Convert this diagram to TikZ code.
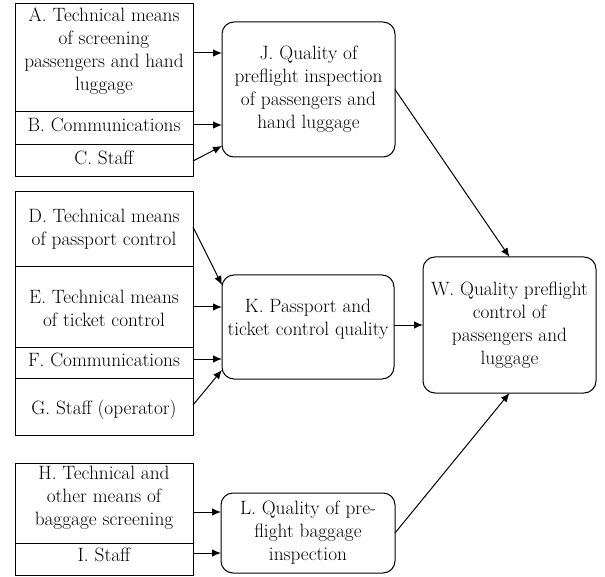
\documentclass[tikz,border=0pt]{standalone}
\usetikzlibrary{arrows.meta}
\begin{document}
\begin{tikzpicture}[x=1pt,y=-1pt,
  every node/.style={font=\fontsize{19.3pt}{23pt}\selectfont, align=center, inner sep=0pt, outer sep=0pt},
  lbox/.style={draw, line width=1pt, minimum width=178pt, text width=176pt},
  rbox/.style={draw, line width=1pt, rounded corners=12pt},
  txt/.style={font=\fontsize{19.3pt}{23pt}\selectfont, align=center},
  arr/.style={line width=1pt, -{Latex[length=9pt,width=7.5pt]}}
]
\useasboundingbox (0,0) rectangle (605,577);
% left boxes, group 1
\node[lbox, minimum height=108pt, label={[txt,yshift=7pt]center:{A. Technical means\\of screening\\passengers and hand\\luggage}}] (A) at (104,58) {};
\node[lbox, minimum height=33pt, label={[txt,yshift=3.5pt]center:{B. Communications}}] (B) at (104,128.5) {};
\node[lbox, minimum height=32pt, label={[txt,yshift=3pt]center:{C. Staff}}] (C) at (104,161) {};
% group 2
\node[lbox, minimum height=75pt, label={[txt,yshift=0pt]center:{D. Technical means\\of passport control}}] (D) at (104,229.5) {};
\node[lbox, minimum height=80pt, label={[txt,yshift=-1.5pt]center:{E. Technical means\\of ticket control}}] (E) at (104,307) {};
\node[lbox, minimum height=31pt, label={[txt,yshift=2.5pt]center:{F. Communications}}] (F) at (104,362.5) {};
\node[lbox, minimum height=57pt, label={[txt,yshift=-3pt]center:{G. Staff (operator)}}] (G) at (104,406.5) {};
% group 3
\node[lbox, minimum height=80pt, label={[txt,yshift=5pt]center:{H. Technical and\\other means of\\baggage screening}}] (H) at (104,503) {};
\node[lbox, minimum height=32pt, label={[txt,yshift=4pt]center:{I. Staff}}] (I) at (104,559) {};
% rounded boxes
\node[rbox, minimum width=173pt, minimum height=135pt] (J) at (308.5,89.5) {J. Quality of\\preflight inspection\\of passengers and\\hand luggage};
\node[rbox, minimum width=172pt, minimum height=104pt, label={[txt,yshift=7.5pt]center:{K. Passport and\\ticket control quality}}] (K) at (308,327) {};
\node[rbox, minimum width=173pt, minimum height=136pt] (W) at (509.5,325) {W. Quality preflight\\control of\\passengers and\\luggage};
\node[rbox, minimum width=174pt, minimum height=80pt] (L) at (308,533) {L. Quality of pre-\\flight baggage\\inspection};
% arrows into J
\draw[arr] ([yshift=5pt]A.east) -- ([yshift=5pt]A.east -| J.west);
\draw[arr] ([yshift=3.5pt]B.east) -- ([yshift=3.5pt]B.east -| J.west);
\draw[arr] (C.east) -- ([yshift=11pt]J.south west);
% arrows into K
\draw[arr] ([yshift=2.5pt]D.east) -- ([yshift=-10pt]K.north west);
\draw[arr] (E.east) -- (E.east -| K.west);
\draw[arr] ([yshift=3.5pt]F.east) -- ([yshift=3.5pt]F.east -| K.west);
\draw[arr] ([yshift=1.5pt]G.east) -- ([yshift=9pt]K.south west);
% arrows into L
\draw[arr] ([yshift=-9pt]H.east) -- ([yshift=-9pt]H.east -| L.west);
\draw[arr] ([yshift=6pt]I.east) -- ([yshift=6pt]I.east -| L.west);
% arrows into W
\draw[arr] (J.east) -- (W.north);
\draw[arr] ([yshift=2pt]K.east) -- ([yshift=2pt]K.east -| W.west);
\draw[arr] (L.east) -- (W.south);
\end{tikzpicture}
\end{document}
